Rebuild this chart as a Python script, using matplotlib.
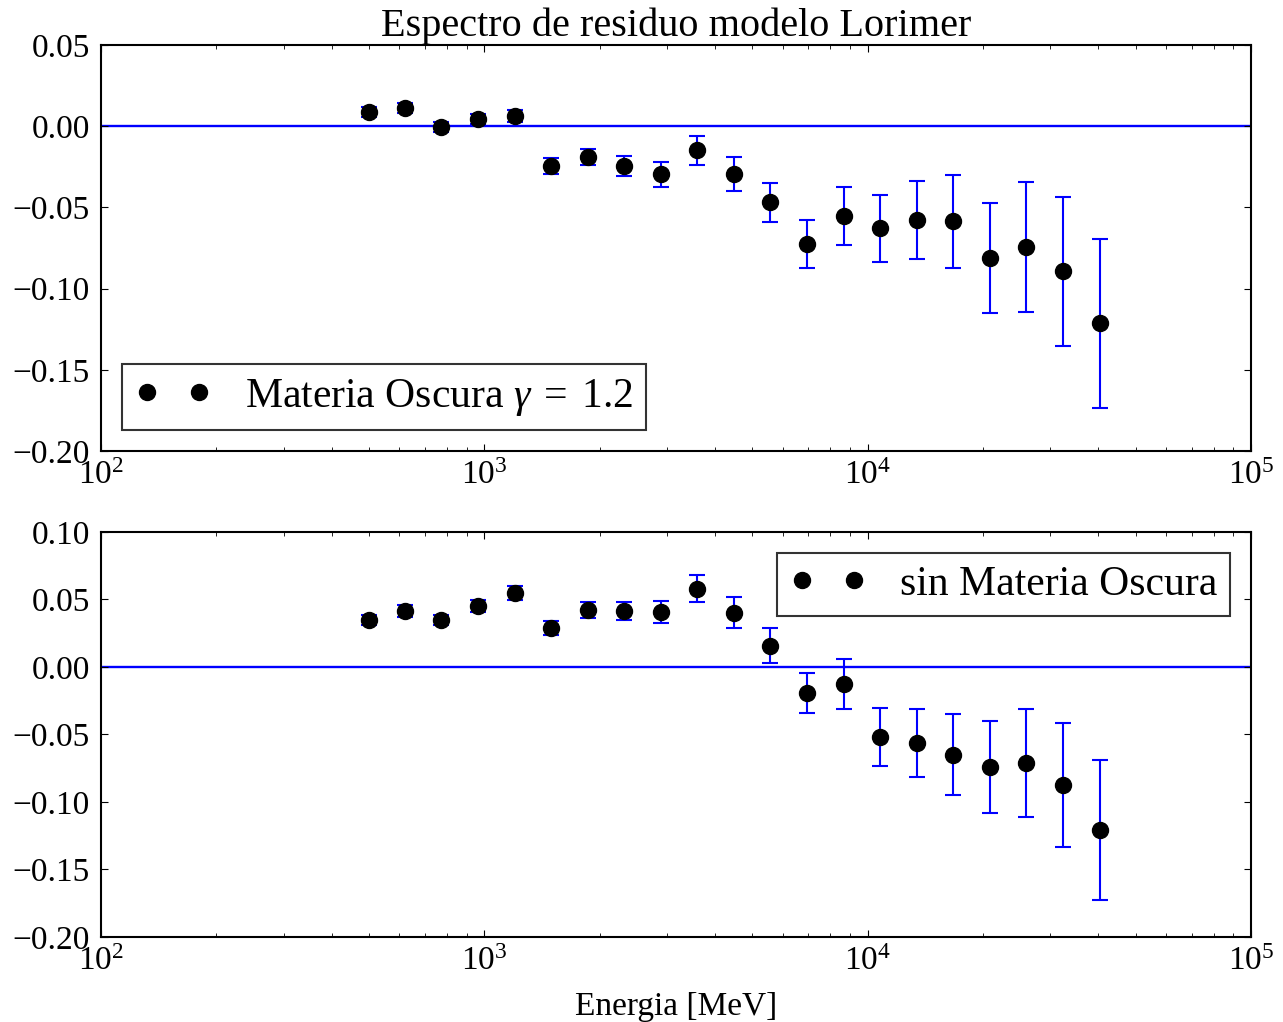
import numpy as np
import matplotlib
matplotlib.use("Agg")
import matplotlib.pyplot as plt

energy = [500, 621, 771, 963, 1203, 1493, 1865, 2315, 2891, 3589, 4480,
          5562, 6948, 8673, 10766, 13447, 16700, 20850, 25880, 32340, 40370]

res_dm = [0.0086, 0.0110, -0.0006, 0.0043, 0.0062, -0.0246, -0.0191, -0.0246,
          -0.0296, -0.0148, -0.0296, -0.0468, -0.0727, -0.0554, -0.0628,
          -0.0579, -0.0585, -0.0813, -0.0745, -0.0893, -0.1213]
err_dm = [0.0030, 0.0030, 0.0030, 0.0032, 0.0035, 0.0050, 0.0050, 0.0060,
          0.0077, 0.0090, 0.0105, 0.0120, 0.0148, 0.0180, 0.0206, 0.0240,
          0.0286, 0.0340, 0.0400, 0.0460, 0.0520]

res_nodm = [0.0348, 0.0415, 0.0348, 0.0452, 0.0548, 0.0289, 0.0422, 0.0415,
            0.0407, 0.0578, 0.0400, 0.0156, -0.0193, -0.0126, -0.0519, -0.0563,
            -0.0652, -0.0741, -0.0711, -0.0874, -0.1207]
err_nodm = [0.0040, 0.0045, 0.0040, 0.0045, 0.0050, 0.0055, 0.0060, 0.0065,
            0.0080, 0.0100, 0.0115, 0.0130, 0.0150, 0.0185, 0.0215, 0.0250,
            0.0300, 0.0340, 0.0400, 0.0460, 0.0520]

title = "Espectro de residuo modelo Lorimer"
label_dm = r"Materia Oscura $\gamma\;=\;1.2$"
label_nodm = "sin Materia Oscura"
xlabel = "Energia [MeV]"

plt.rcParams['font.family'] = ['Liberation Serif', 'DejaVu Serif']
plt.rcParams['mathtext.fontset'] = 'custom'
plt.rcParams['mathtext.rm'] = 'Liberation Serif'
plt.rcParams['mathtext.it'] = 'Liberation Serif:italic'
plt.rcParams['xtick.direction'] = 'in'
plt.rcParams['ytick.direction'] = 'in'
plt.rcParams['xtick.top'] = True
plt.rcParams['ytick.right'] = True
plt.rcParams['xtick.major.size'] = 5
plt.rcParams['xtick.minor.size'] = 3
plt.rcParams['ytick.major.size'] = 5
plt.rcParams['xtick.major.pad'] = 7
plt.rcParams['ytick.major.pad'] = 8

fig = plt.figure(figsize=(12.83, 10.22), dpi=100)
ax1 = fig.add_axes([0.0787, 0.5587, 0.975 - 0.0787, 0.956 - 0.5587])
ax2 = fig.add_axes([0.0787, 0.0832, 0.975 - 0.0787, 0.4795 - 0.0832])

def panel(ax, y, e, label, loc, ylim, yticks):
    ax.set_xscale('log')
    ax.axhline(0, color='b', lw=1.7, zorder=1)
    ax.errorbar(energy, y, yerr=e, fmt='none', ecolor='b', elinewidth=1.5,
                capsize=5.5, capthick=1.5, zorder=2)
    ax.plot(energy, y, 'ko', ms=11.5, label=label, zorder=3)
    ax.set_xlim(1e2, 1e5)
    ax.set_ylim(*ylim)
    ax.set_yticks(yticks)
    ax.set_yticklabels([("%.2f" % t).replace('-', '\u2212') for t in yticks])
    ax.tick_params(labelsize=24)
    for s in ax.spines.values():
        s.set_linewidth(1.5)
    leg = ax.legend(loc=loc, numpoints=2, fontsize=30, fancybox=False,
                    frameon=True, borderpad=0.3, handlelength=1.85,
                    handletextpad=0.8, borderaxespad=0.5)
    leg.get_frame().set_edgecolor('black')
    leg.get_frame().set_linewidth(1.5)

panel(ax1, res_dm, err_dm, label_dm, 'lower left', (-0.20, 0.05),
      [-0.20, -0.15, -0.10, -0.05, 0.00, 0.05])
panel(ax2, res_nodm, err_nodm, label_nodm, 'upper right', (-0.20, 0.10),
      [-0.20, -0.15, -0.10, -0.05, 0.00, 0.05, 0.10])

ax1.set_title(title, fontsize=29, pad=6)
ax2.set_xlabel(xlabel, fontsize=24, labelpad=10)

fig.savefig("out.png", dpi=100)
